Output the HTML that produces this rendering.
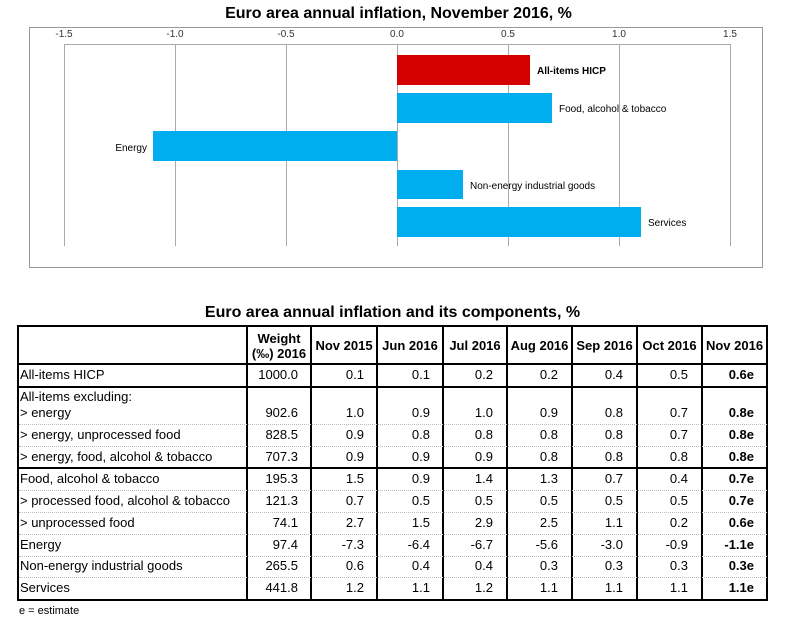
<!DOCTYPE html>
<html><head><meta charset="utf-8"><style>
body{margin:0;width:797px;height:622px;background:#fff;font-family:"Liberation Sans",Arial,sans-serif;position:relative;overflow:hidden}
.a{position:absolute}
.t{font-size:13px;color:#000;white-space:nowrap;line-height:14px}
.h{font-weight:bold}
.v{position:absolute;text-align:right;font-size:13px;line-height:14px}
.hl{position:absolute;left:17px;width:751px;height:2px;background:#000}
.dl{position:absolute;left:19px;width:748px;border-top:1px dotted #bbb;height:0}
.vl{position:absolute;width:2px;background:#000}
</style></head><body>
<div class="a" style="left:0;width:797px;top:5px;text-align:center;font-weight:bold;font-size:16px;">Euro area annual inflation, November 2016, %</div>
<svg class="a" style="left:0;top:0" width="797" height="280">
<rect x="29.5" y="27.5" width="733" height="240" fill="none" stroke="#999" stroke-width="1"/>
<g stroke="#aaa" stroke-width="1">
<line x1="64.5" y1="44" x2="64.5" y2="246"/><line x1="175.5" y1="44" x2="175.5" y2="246"/><line x1="286.5" y1="44" x2="286.5" y2="246"/><line x1="397.5" y1="44" x2="397.5" y2="246"/><line x1="508.5" y1="44" x2="508.5" y2="246"/><line x1="619.5" y1="44" x2="619.5" y2="246"/><line x1="730.5" y1="44" x2="730.5" y2="246"/>
<line x1="64" y1="44.5" x2="731" y2="44.5"/>
</g>
<g font-family="Liberation Sans,Arial,sans-serif" font-size="10" text-anchor="middle" fill="#333">
<text x="64" y="37">-1.5</text><text x="175" y="37">-1.0</text><text x="286" y="37">-0.5</text><text x="397" y="37">0.0</text><text x="508" y="37">0.5</text><text x="619" y="37">1.0</text><text x="730" y="37">1.5</text>
</g>
<rect x="397" y="55" width="133" height="30" fill="#d40000"/>
<rect x="397" y="93" width="155" height="30" fill="#00aeef"/>
<rect x="153" y="131" width="244" height="30" fill="#00aeef"/>
<rect x="397" y="170" width="66" height="29" fill="#00aeef"/>
<rect x="397" y="207" width="244" height="30" fill="#00aeef"/>
<g font-family="Liberation Sans,Arial,sans-serif" font-size="10" fill="#000">
<text x="537" y="74" font-weight="bold">All-items HICP</text>
<text x="559" y="112">Food, alcohol &amp; tobacco</text>
<text x="147" y="151" text-anchor="end">Energy</text>
<text x="470" y="189">Non-energy industrial goods</text>
<text x="648" y="226">Services</text>
</g>
</svg>
<div class="a" style="left:0;width:785px;top:304px;text-align:center;font-weight:bold;font-size:16px;">Euro area annual inflation and its components, %</div>
<div class="hl" style="top:325px"></div><div class="hl" style="top:363px"></div><div class="hl" style="top:386px"></div><div class="hl" style="top:467px"></div><div class="hl" style="top:599px"></div>
<div class="vl" style="left:17px;top:325px;height:276px"></div>
<div class="vl" style="left:246px;top:325px;height:276px"></div>
<div class="vl" style="left:310px;top:325px;height:276px"></div>
<div class="vl" style="left:376px;top:325px;height:276px"></div>
<div class="vl" style="left:442px;top:325px;height:276px"></div>
<div class="vl" style="left:506px;top:325px;height:276px"></div>
<div class="vl" style="left:571px;top:325px;height:276px"></div>
<div class="vl" style="left:636px;top:325px;height:276px"></div>
<div class="vl" style="left:701px;top:325px;height:276px"></div>
<div class="vl" style="left:766px;top:325px;height:276px"></div>
<div class="dl" style="top:424px"></div><div class="dl" style="top:446px"></div><div class="dl" style="top:490px"></div><div class="dl" style="top:512px"></div><div class="dl" style="top:534px"></div><div class="dl" style="top:556px"></div><div class="dl" style="top:577px"></div>
<div class="a t h" style="left:248px;width:62px;top:331px;text-align:center;line-height:15px">Weight<br>(‰) 2016</div>
<div class="a t h" style="left:312px;width:64px;top:339px;text-align:center">Nov 2015</div>
<div class="a t h" style="left:378px;width:64px;top:339px;text-align:center">Jun 2016</div>
<div class="a t h" style="left:444px;width:62px;top:339px;text-align:center">Jul 2016</div>
<div class="a t h" style="left:508px;width:63px;top:339px;text-align:center">Aug 2016</div>
<div class="a t h" style="left:573px;width:63px;top:339px;text-align:center">Sep 2016</div>
<div class="a t h" style="left:638px;width:63px;top:339px;text-align:center">Oct 2016</div>
<div class="a t h" style="left:703px;width:63px;top:339px;text-align:center">Nov 2016</div>
<div id="rows"></div>
<div class="a" style="left:19px;top:605px;font-size:11px">e = estimate</div>
<div class="a t" style="left:20px;top:390px">All-items excluding:</div>
<script>
var R=[["All-items HICP",368,"1000.0","0.1","0.1","0.2","0.2","0.4","0.5","0.6e"],
["> energy",406,"902.6","1.0","0.9","1.0","0.9","0.8","0.7","0.8e"],
["> energy, unprocessed food",428,"828.5","0.9","0.8","0.8","0.8","0.8","0.7","0.8e"],
["> energy, food, alcohol & tobacco",450,"707.3","0.9","0.9","0.9","0.8","0.8","0.8","0.8e"],
["Food, alcohol & tobacco",472,"195.3","1.5","0.9","1.4","1.3","0.7","0.4","0.7e"],
["> processed food, alcohol & tobacco",494,"121.3","0.7","0.5","0.5","0.5","0.5","0.5","0.7e"],
["> unprocessed food",516,"74.1","2.7","1.5","2.9","2.5","1.1","0.2","0.6e"],
["Energy",538,"97.4","-7.3","-6.4","-6.7","-5.6","-3.0","-0.9","-1.1e"],
["Non-energy industrial goods",559,"265.5","0.6","0.4","0.4","0.3","0.3","0.3","0.3e"],
["Services",581,"441.8","1.2","1.1","1.2","1.1","1.1","1.1","1.1e"]];
var rights=[298,364,430,493,558,623,688,754],h="";
R.forEach(function(r){h+='<div class="a t" style="left:20px;top:'+r[1]+'px">'+r[0].replace("&","&amp;").replace(">","&gt;")+'</div>';
for(var i=0;i<8;i++){h+='<div class="v'+(i==7?' h':'')+'" style="left:'+(rights[i]-60)+'px;width:60px;top:'+r[1]+'px">'+r[i+2]+'</div>';}});
document.getElementById("rows").innerHTML=h;
</script>
</body></html>
